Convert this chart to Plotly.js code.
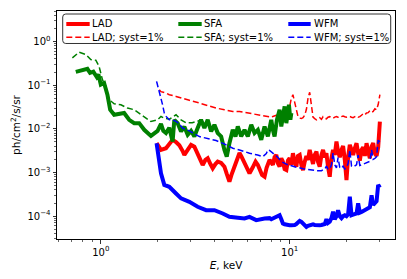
<!DOCTYPE html>
<html>
<head>
<meta charset="utf-8">
<script src="https://cdn.plot.ly/plotly-3.0.1.min.js"></script>
<style>html,body{margin:0;padding:0;background:#fff;}#chart{width:407px;height:279px;}</style>
</head>
<body>
<div id="chart"></div>
<script>
// ---- data (energy in keV, sensitivity in ph/cm^2/s/sr) ----
var eHigh = [7.830, 7.993, 8.152, 8.323, 8.499, 8.667, 8.849, 9.034, 9.213, 9.408, 9.605, 9.795, 10.0, 10.21, 10.41, 10.63, 10.85, 11.07, 11.30, 11.54, 11.77, 12.02, 12.27, 12.51, 12.77, 13.04, 13.30, 13.58, 13.87, 14.13, 14.43, 14.74, 15.03, 15.35, 15.66, 15.97, 16.31, 16.65, 16.98, 17.34, 17.70, 18.05, 18.43, 18.82, 19.19, 19.60, 20.00, 20.40, 20.83, 21.27, 21.69, 22.14, 22.61, 23.06, 23.53, 24.03, 24.51, 25.02, 25.55, 26.05, 26.60, 27.16, 27.70, 28.27, 28.87, 29.44, 30.06];

var ladE_low = [1.974, 2.083, 2.214, 2.305, 2.400, 2.502, 2.605, 2.713, 2.770, 2.884, 3.006, 3.130, 3.258, 3.396, 3.464, 3.58, 3.683, 3.806, 3.914, 4.046, 4.161, 4.339, 4.515, 4.645, 4.799, 4.92, 5.104, 5.294, 5.426, 5.561, 5.768, 5.984, 6.132, 6.36, 6.6, 6.788, 6.929, 7.145, 7.366, 7.549];
var ladV_low = [0.00469, 0.00329, 0.0036, 0.0045, 0.00559, 0.0050, 0.0042, 0.0031, 0.00252, 0.00329, 0.00429, 0.0039, 0.00265, 0.00173, 0.00149, 0.00194, 0.00212, 0.00156, 0.00125, 0.00156, 0.00177, 0.00166, 0.00136, 0.00093, 0.00062, 0.00088, 0.00136, 0.00215, 0.0028, 0.00231, 0.00166, 0.00114, 0.00096, 0.00128, 0.00177, 0.00149, 0.00114, 0.00088, 0.0008, 0.00128];
var ladV_high = [0.00194, 0.00163, 0.00149, 0.00224, 0.00252, 0.00163, 0.00136, 0.00212, 0.00177, 0.00119, 0.00114, 0.00187, 0.00212, 0.00149, 0.00276, 0.00177, 0.00136, 0.00239, 0.00252, 0.00149, 0.00114, 0.00177, 0.00239, 0.00194, 0.00329, 0.00224, 0.00157, 0.00252, 0.00301, 0.00177, 0.00136, 0.00252, 0.00329, 0.00224, 0.00276, 0.00136, 0.0008, 0.00212, 0.00329, 0.00252, 0.0051, 0.00301, 0.00224, 0.00329, 0.00407, 0.00194, 0.00067, 0.00224, 0.00429, 0.00329, 0.00252, 0.0036, 0.00469, 0.00276, 0.00187, 0.00329, 0.0038, 0.00239, 0.00469, 0.00301, 0.00212, 0.00392, 0.00469, 0.00276, 0.00239, 0.0038, 0.0147];

var ladsE_low = [2.040, 2.083, 2.214, 2.305, 2.502, 2.713, 2.944, 3.327, 3.683, 4.080, 4.515, 4.999, 5.426, 6.132, 6.929, 7.669];
var ladsV_low = [0.0788, 0.071, 0.0662, 0.0605, 0.0553, 0.0508, 0.045, 0.039, 0.034, 0.0299, 0.0274, 0.025, 0.025, 0.023, 0.021, 0.0195];
var ladsV_high = [0.0192, 0.0185, 0.0192, 0.020, 0.0204, 0.0204, 0.0204, 0.0197, 0.0192, 0.0192, 0.0192, 0.0200, 0.034, 0.0508, 0.0605, 0.040, 0.0274, 0.0192, 0.0176, 0.0172, 0.018, 0.0205, 0.028, 0.05, 0.0688, 0.030, 0.0185, 0.0172, 0.0161, 0.017, 0.018, 0.0165, 0.019, 0.0175, 0.017, 0.0185, 0.019, 0.018, 0.0175, 0.0185, 0.0192, 0.0185, 0.018, 0.019, 0.0197, 0.019, 0.0185, 0.019, 0.0192, 0.0185, 0.018, 0.019, 0.0197, 0.0185, 0.019, 0.0205, 0.0222, 0.021, 0.023, 0.0235, 0.026, 0.024, 0.025, 0.0288, 0.0274, 0.036, 0.0605];

var sfaE = [0.737, 0.849, 0.877, 0.913, 0.952, 0.971, 1.0, 1.041, 1.084, 1.121, 1.177, 1.251, 1.329, 1.413, 1.503, 1.597, 1.698, 1.843, 1.919, 1.998, 2.083, 2.143, 2.214, 2.305, 2.400, 2.451, 2.552, 2.660, 2.770, 2.884, 3.006, 3.130, 3.258, 3.396, 3.537, 3.683, 3.839, 3.996, 4.161, 4.339, 4.515, 4.645, 4.799, 4.999, 5.167, 5.314, 5.539, 5.768, 6.004, 6.262, 6.518, 6.788, 7.076, 7.366, 7.669, 7.993, 8.152, 8.323, 8.563, 8.849, 9.034, 9.408, 9.605, 9.915, 10.09, 10.21];
var sfaV = [0.201, 0.236, 0.191, 0.204, 0.154, 0.177, 0.103, 0.112, 0.0605, 0.0274, 0.021, 0.0221, 0.023, 0.0161, 0.0135, 0.0135, 0.0095, 0.0069, 0.0077, 0.0090, 0.0130, 0.0090, 0.0080, 0.0106, 0.0051, 0.0161, 0.0135, 0.0087, 0.0112, 0.0073, 0.0090, 0.0067, 0.0104, 0.0161, 0.0104, 0.0161, 0.0087, 0.0124, 0.0080, 0.0067, 0.0033, 0.0023, 0.0047, 0.0095, 0.0067, 0.0113, 0.0067, 0.0095, 0.0067, 0.0124, 0.0080, 0.0095, 0.0056, 0.0113, 0.0067, 0.0161, 0.0095, 0.0067, 0.0161, 0.0274, 0.0113, 0.0326, 0.0135, 0.0356, 0.0161, 0.023];

var sfasE = [0.707, 0.767, 0.833, 0.885, 0.941, 0.979, 1.020, 1.063, 1.107, 1.177, 1.277, 1.385, 1.503, 1.631, 1.843, 1.998, 2.083, 2.169, 2.305, 2.502, 2.660, 2.828, 3.05, 3.45];
var sfasV = [0.422, 0.568, 0.502, 0.386, 0.372, 0.270, 0.134, 0.0938, 0.0464, 0.0376, 0.0356, 0.0299, 0.0274, 0.021, 0.0147, 0.0161, 0.0192, 0.0176, 0.0166, 0.021, 0.0161, 0.0138, 0.0138, 0.0161];

var wfmE_low = [1.974, 2.083, 2.169, 2.305, 2.502, 2.660, 2.944, 3.258, 3.611, 3.996, 4.422, 4.799, 5.314, 5.768, 6.132, 6.655, 7.366];
var wfmV_low = [0.00469, 0.00096, 0.00052, 0.00047, 0.00033, 0.000255, 0.000213, 0.000164, 0.000137, 0.000137, 0.000115, 0.0000964, 0.000092, 0.0000885, 0.0000964, 0.000081, 0.0000885];
var wfmV_high = [0.00009, 0.000085, 0.0000885, 0.000095, 0.0001, 0.000105, 0.000105, 0.000085, 0.000068, 0.000065, 0.000063, 0.000062, 0.000062, 0.000062, 0.000062, 0.000063, 0.000066, 0.00007, 0.000078, 0.000074, 0.000068, 0.00006, 0.0000567, 0.00006, 0.000062, 0.000064, 0.000065, 0.000063, 0.000062, 0.000062, 0.000062, 0.000063, 0.000064, 0.000066, 0.000085, 0.00007, 0.000075, 0.00009, 0.000126, 0.000085, 0.0001, 0.000137, 0.0001, 0.00009, 0.0001, 0.000105, 0.0001, 0.00011, 0.00028, 0.000105, 0.000108, 0.000112, 0.000115, 0.000196, 0.00012, 0.000125, 0.00013, 0.000135, 0.000142, 0.00015, 0.00016, 0.0003, 0.00018, 0.0002, 0.00022, 0.00052, 0.00045];

var wfmsE_low = [1.974, 2.015, 2.083, 2.124, 2.169, 2.223, 2.305, 2.400, 2.502, 2.605, 2.713, 2.944, 3.327, 3.683, 4.080, 4.515, 4.999, 5.426, 6.132, 6.771, 7.215, 7.521, 7.669];
var wfmsV_low = [0.122, 0.0875, 0.0553, 0.0356, 0.023, 0.019, 0.0161, 0.0161, 0.0149, 0.013, 0.0104, 0.009, 0.00665, 0.0059, 0.0054, 0.0045, 0.0036, 0.00329, 0.00276, 0.00252, 0.00231, 0.0027, 0.00329];
var wfmsV_high = [0.0032, 0.003, 0.00276, 0.0026, 0.0024, 0.0022, 0.00194, 0.0018, 0.0017, 0.0016, 0.00155, 0.0015, 0.00145, 0.00142, 0.0014, 0.00136, 0.00132, 0.0013, 0.0013, 0.00125, 0.00122, 0.0012, 0.00118, 0.00116, 0.00115, 0.00114, 0.00114, 0.00112, 0.0011, 0.0011, 0.00108, 0.0011, 0.00115, 0.0012, 0.0014, 0.0012, 0.0012, 0.0015, 0.0028, 0.0015, 0.00128, 0.0022, 0.0013, 0.00125, 0.0014, 0.0012, 0.0013, 0.0016, 0.0033, 0.0014, 0.00135, 0.0014, 0.0015, 0.0025, 0.00145, 0.0015, 0.00155, 0.0016, 0.00165, 0.0017, 0.0018, 0.0033, 0.002, 0.0021, 0.0023, 0.0055, 0.005];

var seriesNames = ['LAD', 'LAD; syst=1%', 'SFA', 'SFA; syst=1%', 'WFM', 'WFM; syst=1%'];
var seriesColors = ['#ff0000', '#ff0000', '#008000', '#008000', '#0000ff', '#0000ff'];
var yTickVals = [1e-4, 1e-3, 1e-2, 1e-1, 1];
var yTickText = ['10<sup>\u22124</sup>', '10<sup>\u22123</sup>', '10<sup>\u22122</sup>', '10<sup>\u22121</sup>', '10<sup>0</sup>'];
var xTickVals = [1, 10];
var xTickText = ['10<sup>0</sup>', '10<sup>1</sup>'];

// ---- minor tick positions (2..9 per decade) ----
function minorTicks(lo, hi) {
  var out = [];
  for (var p = lo; p <= hi; p++) for (var m = 2; m <= 9; m++) out.push(m * Math.pow(10, p));
  return out;
}

var solidW = 4, dashW = 1.5, dashPat = '6px,3px';
function isDashed(i) { return i % 2 === 1; }
var xs = [ladE_low.concat(eHigh), ladsE_low.concat(eHigh), sfaE, sfasE, wfmE_low.concat(eHigh), wfmsE_low.concat(eHigh)];
var ys = [ladV_low.concat(ladV_high), ladsV_low.concat(ladsV_high), sfaV, sfasV, wfmV_low.concat(wfmV_high), wfmsV_low.concat(wfmsV_high)];
var traces = xs.map(function (x, i) {
  var ln = {color: seriesColors[i], width: isDashed(i) ? dashW : solidW};
  if (isDashed(i)) ln.dash = dashPat;
  return {x: x, y: ys[i], name: seriesNames[i], mode: 'lines', line: ln, showlegend: false};
});

// ---- legend drawn as a boxed key (paper coordinates of the plot area) ----
var legX0 = 0.0169, legX1 = 0.9873, legY0 = 0.8575, legY1 = 0.9868;
var rx = 0.009, ry = 0.013;
var boxPath = 'M ' + (legX0 + rx) + ' ' + legY1 + ' L ' + (legX1 - rx) + ' ' + legY1 +
  ' Q ' + legX1 + ' ' + legY1 + ' ' + legX1 + ' ' + (legY1 - ry) +
  ' L ' + legX1 + ' ' + (legY0 + ry) + ' Q ' + legX1 + ' ' + legY0 + ' ' + (legX1 - rx) + ' ' + legY0 +
  ' L ' + (legX0 + rx) + ' ' + legY0 + ' Q ' + legX0 + ' ' + legY0 + ' ' + legX0 + ' ' + (legY0 + ry) +
  ' L ' + legX0 + ' ' + (legY1 - ry) + ' Q ' + legX0 + ' ' + legY1 + ' ' + (legX0 + rx) + ' ' + legY1 + ' Z';
var shapes = [{type: 'path', xref: 'paper', yref: 'paper', path: boxPath,
  fillcolor: 'rgba(255,255,255,0.8)', line: {color: '#333', width: 1}, layer: 'above'}];
var annotations = [];
var colLineX0 = [0.0275, 0.3589, 0.6843], colLineX1 = [0.0967, 0.4281, 0.7506], colTextX = [0.0990, 0.4303, 0.7558];
var rowY = [0.943, 0.8846];
seriesNames.forEach(function (nm, i) {
  var col = Math.floor(i / 2), row = i % 2;
  var ln = {color: seriesColors[i], width: isDashed(i) ? dashW : solidW};
  if (isDashed(i)) ln.dash = dashPat;
  shapes.push({type: 'line', xref: 'paper', yref: 'paper', x0: colLineX0[col], x1: colLineX1[col],
    y0: rowY[row], y1: rowY[row], line: ln, layer: 'above'});
  annotations.push({xref: 'paper', yref: 'paper', x: colTextX[col], y: rowY[row], xanchor: 'left', yanchor: 'middle',
    text: nm, showarrow: false, font: {size: 10, color: '#000'}});
});

var axisCommon = {
  type: 'log', showgrid: false, zeroline: false,
  showline: true, mirror: true, linecolor: '#000', linewidth: 1,
  ticks: 'outside', ticklen: 3.5, tickwidth: 0.8, tickcolor: '#000',
  tickmode: 'array', tickfont: {size: 10, color: '#000'}
};

var layout = {
  width: 407, height: 279,
  margin: {l: 57, r: 12, t: 11, b: 40},
  paper_bgcolor: '#fff', plot_bgcolor: '#fff',
  font: {family: 'DejaVu Sans', size: 10, color: '#000'},
  showlegend: false,
  shapes: shapes,
  annotations: annotations,
  xaxis: Object.assign({}, axisCommon, {
    range: [-0.232, 1.558], tickvals: xTickVals, ticktext: xTickText,
    minor: {tickmode: 'array', tickvals: minorTicks(-1, 1), ticks: 'outside', ticklen: 2, tickwidth: 0.6, tickcolor: '#000', showgrid: false},
    title: {text: '<i>E</i>, keV', font: {size: 10.5, color: '#000'}, standoff: 5}
  }),
  yaxis: Object.assign({}, axisCommon, {
    range: [-4.523, 0.699], tickvals: yTickVals, ticktext: yTickText,
    minor: {tickmode: 'array', tickvals: minorTicks(-5, 0), ticks: 'outside', ticklen: 2, tickwidth: 0.6, tickcolor: '#000', showgrid: false},
    title: {text: 'ph/cm<sup>2</sup>/s/sr', font: {size: 10.5, color: '#000'}, standoff: 4}
  })
};

Plotly.newPlot('chart', traces, layout, {staticPlot: true, displayModeBar: false});
</script>
</body>
</html>
